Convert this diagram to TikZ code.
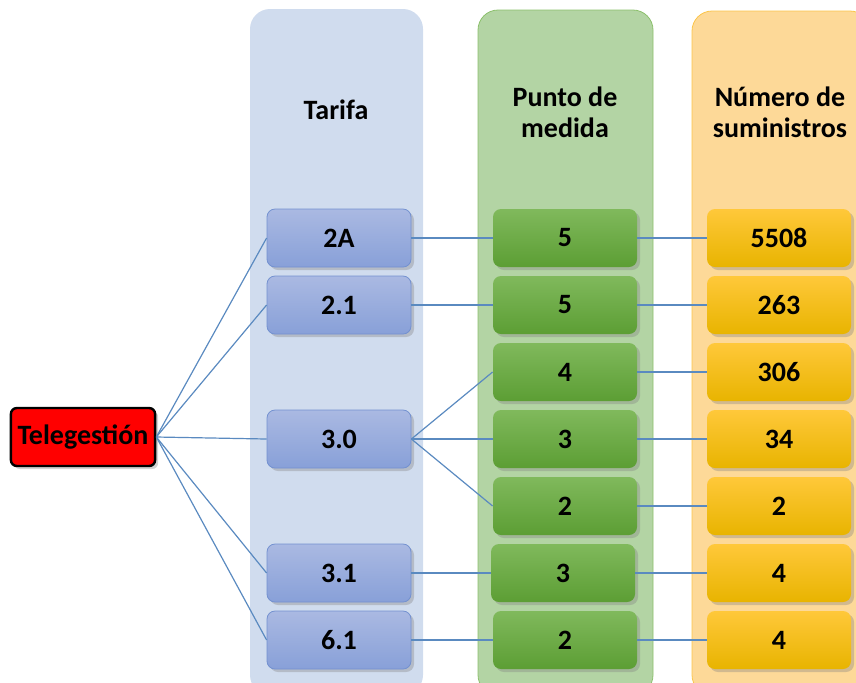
\documentclass[tikz,border=0pt]{standalone}
\usepackage{fontspec}
\setmainfont{Carlito}
\usetikzlibrary{shadows}

\definecolor{panelblue}{HTML}{D0DCEE}
\definecolor{panelgreen}{HTML}{B3D4A4}
\definecolor{edgegreen}{HTML}{8CC06C}
\definecolor{panelorange}{HTML}{FDD998}
\definecolor{edgeorange}{HTML}{FBC54A}
\definecolor{linkblue}{HTML}{5A8AC0}
\definecolor{tarifatop}{HTML}{AAB9E2}
\definecolor{tarifabot}{HTML}{88A0D8}
\definecolor{tarifaedge}{HTML}{7391D0}
\definecolor{puntotop}{HTML}{80B95C}
\definecolor{puntobot}{HTML}{5C9E34}
\definecolor{numtop}{HTML}{FFC83A}
\definecolor{numbot}{HTML}{E8B400}

\begin{document}
\begin{tikzpicture}[x=0.5pt,y=-0.5pt,
  font=\bfseries\fontsize{14}{15.5}\selectfont,
  box/.style={rounded corners=4pt,minimum width=72pt,minimum height=29pt,
    drop shadow={shadow xshift=1.5pt,shadow yshift=-1.5pt,opacity=0.35}},
  tarifa node/.style={box,draw=tarifaedge,top color=tarifatop,bottom color=tarifabot},
  punto node/.style={box,draw=none,top color=puntotop,bottom color=puntobot},
  num node/.style={box,draw=none,top color=numtop,bottom color=numbot},
  conn/.style={draw=linkblue,line width=0.6pt}]

\useasboundingbox (0,0) rectangle (856,682);

% columns
\fill[panelblue,rounded corners=10pt] (250,9) rectangle (423,695);
\filldraw[fill=panelgreen,draw=edgegreen,rounded corners=10pt] (478,10) rectangle (653,695);
\filldraw[fill=panelorange,draw=edgeorange,rounded corners=10pt] (692,11) rectangle (870,695);

\node (h1) at (336,110) {Tarifa};
\node[align=center] (h2) at (565,112) {Punto de\\medida};
\node[align=center] (h3) at (780,112) {Número de\\suministros};

\node[draw=black,line width=1.2pt,fill=red,rounded corners=3pt,minimum width=72pt,minimum height=29pt,
  drop shadow={shadow xshift=1.5pt,shadow yshift=-1.5pt,opacity=0.35}] (tele) at (83,437) {Telegestión};

% tarifas
\node[tarifa node] (t2A) at (339,238) {2A};
\node[tarifa node] (t21) at (339,305) {2.1};
\node[tarifa node] (t30) at (339,439) {3.0};
\node[tarifa node] (t31) at (339,573) {3.1};
\node[tarifa node] (t61) at (339,640) {6.1};

% puntos de medida
\node[punto node] (p1) at (565,238) {5};
\node[punto node] (p2) at (565,305) {5};
\node[punto node] (p3) at (565,372) {4};
\node[punto node] (p4) at (565,439) {3};
\node[punto node] (p5) at (565,506) {2};
\node[punto node] (p6) at (563,573) {3};
\node[punto node] (p7) at (565,640) {2};

% suministros
\node[num node] (n1) at (779,238) {5508};
\node[num node] (n2) at (779,305) {263};
\node[num node] (n3) at (779,372) {306};
\node[num node] (n4) at (779,439) {34};
\node[num node] (n5) at (779,506) {2};
\node[num node] (n6) at (779,573) {4};
\node[num node] (n7) at (779,640) {4};

\path[conn]
(tele.east) edge (t2A.west)
(tele.east) edge (t21.west)
(tele.east) edge (t30.west)
(tele.east) edge (t31.west)
(tele.east) edge (t61.west)
(t2A) edge (p1)
(t21) edge (p2)
(t30.east) edge (p3.west)
(t30.east) edge (p4.west)
(t30.east) edge (p5.west)
(t31) edge (p6)
(t61) edge (p7)
(p1) edge (n1)
(p2) edge (n2)
(p3) edge (n3)
(p4) edge (n4)
(p5) edge (n5)
(p6) edge (n6)
(p7) edge (n7);
\end{tikzpicture}
\end{document}
